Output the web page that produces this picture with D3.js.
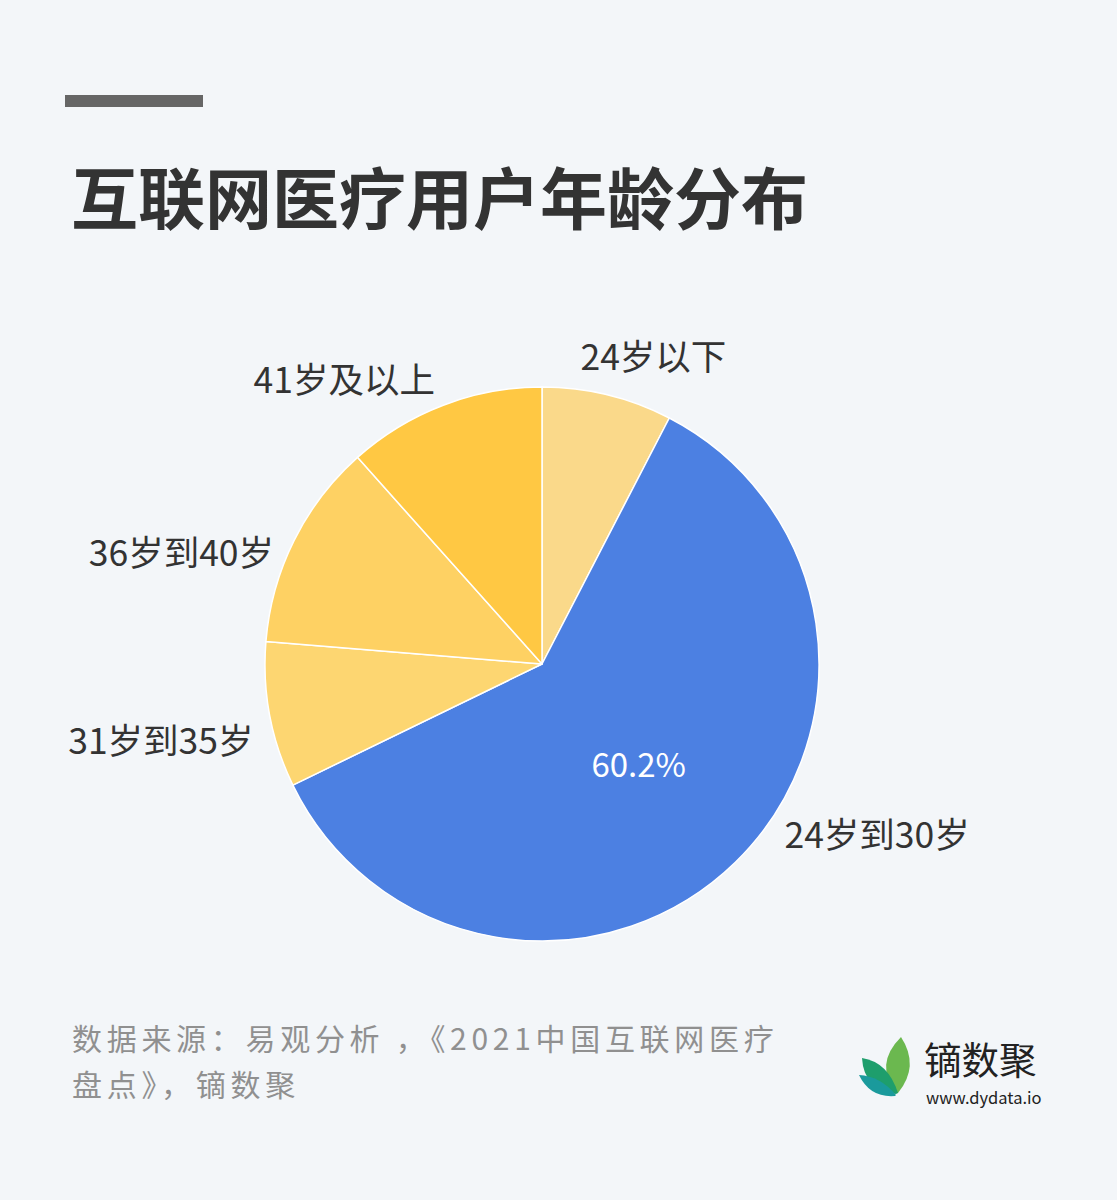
<!DOCTYPE html>
<html>
<head>
<meta charset="utf-8">
<script src="https://cdn.jsdelivr.net/npm/d3@7"></script>
<style>
  html, body { margin: 0; padding: 0; background: #F3F6F9; }
  svg { display: block; }
  text { font-family: "Noto Sans CJK SC", "Noto Sans", sans-serif; }
</style>
</head>
<body>
<svg id="chart" width="1117" height="1200"></svg>
<script>
// ---- data ----
const categories = ["24岁以下", "24岁到30岁", "31岁到35岁", "36岁到40岁", "41岁及以上"];
const values = [7.6, 60.2, 8.5, 12.1, 11.6];
const shownPercent = ["", "60.2%", "", "", ""];
const titleText = "互联网医疗用户年龄分布";
const sourceLines = ["数据来源：易观分析 ，《2021中国互联网医疗", "盘点》，镝数聚"];

// ---- styles / layout ----
const colors = ["#FAD98A", "#4C80E2", "#FDD671", "#FED163", "#FFC843"];
const labelAngleNudge = [-6.6, -11, -3.9, -3.5, 0.4]; // degrees, label placement tweak
const labelRadiusNudge = [12, -5, -2, -9, 6];          // px, label placement tweak
const W = 1117, H = 1200;
const cx = 542, cy = 664, R = 277, labelR = 300;

const svg = d3.select("#chart");
svg.append("rect").attr("width", W).attr("height", H).attr("fill", "#F3F6F9");

// header bar + title
svg.append("rect").attr("x", 65).attr("y", 95).attr("width", 138).attr("height", 12).attr("fill", "#666666");
svg.append("text").attr("x", 71).attr("y", 224)
  .attr("font-size", 67).attr("font-weight", 700).attr("fill", "#333333")
  .text(titleText);

// pie
const pie = d3.pie().sort(null).value(d => d).startAngle(0).endAngle(2 * Math.PI);
const arcs = pie(values);
const arc = d3.arc().innerRadius(0).outerRadius(R);
const g = svg.append("g").attr("transform", `translate(${cx},${cy})`);

g.selectAll("path.slice").data(arcs).enter().append("path")
  .attr("class", "slice")
  .attr("d", arc)
  .attr("fill", (d, i) => colors[i])
  .attr("stroke", "#ffffff")
  .attr("stroke-width", 1.5)
  .attr("stroke-linejoin", "round");

// inside percent label
g.selectAll("text.pct").data(arcs).enter().append("text")
  .attr("class", "pct")
  .attr("transform", d => `translate(${arc.centroid(d)})`)
  .attr("text-anchor", "middle")
  .attr("dominant-baseline", "central")
  .attr("font-size", 33).attr("fill", "#ffffff")
  .text((d, i) => shownPercent[i]);

// outside category labels
g.selectAll("text.lbl").data(arcs).enter().append("text")
  .attr("class", "lbl")
  .each(function (d, i) {
    const mid = (d.startAngle + d.endAngle) / 2 + labelAngleNudge[i] * Math.PI / 180;
    const r = labelR + labelRadiusNudge[i];
    const x = r * Math.sin(mid), y = -r * Math.cos(mid);
    d3.select(this).attr("x", x).attr("y", y)
      .attr("text-anchor", Math.sin(mid) >= 0 ? "start" : "end");
  })
  .attr("dominant-baseline", "central")
  .attr("font-size", 35.5).attr("fill", "#333333")
  .text((d, i) => categories[i]);

// source footnote
svg.append("g").selectAll("text").data(sourceLines).enter().append("text")
  .attr("x", 72).attr("y", (d, i) => 1050 + i * 46)
  .attr("font-size", 30).attr("letter-spacing", 4.7).attr("fill", "#909090")
  .text(d => d);

// logo
const logo = svg.append("g").attr("transform", "translate(840,1020)");
logo.append("path").attr("fill", "#6BB84F")
  .attr("d", "M56,73 Q34,44 61,17 Q80,46 58,73 Z");
logo.append("path").attr("fill", "#1E9E6C")
  .attr("d", "M56,74 Q24,70 22,38 Q48,42 58,73 Z");
logo.append("path").attr("fill", "#1A9A9C")
  .attr("d", "M55,76 Q30,78 19,55 Q40,56 56,75 Z");
logo.append("text").attr("x", 84).attr("y", 54)
  .attr("font-size", 37.5).attr("fill", "#222222").text("镝数聚");
logo.append("text").attr("x", 86).attr("y", 84)
  .attr("font-size", 16.5).attr("fill", "#222222").text("www.dydata.io");
</script>
</body>
</html>
